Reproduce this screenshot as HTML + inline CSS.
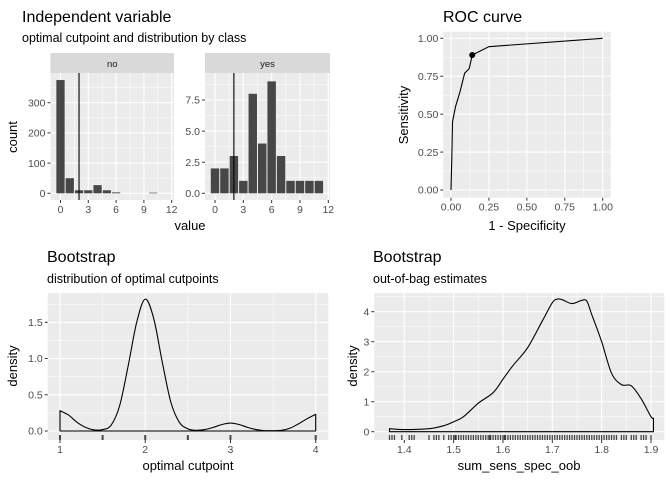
<!DOCTYPE html>
<html><head><meta charset="utf-8"><style>
body{margin:0;background:#fff}
svg{display:block;font-family:"Liberation Sans",sans-serif}
</style></head><body>
<svg id="s" width="672" height="480" xmlns="http://www.w3.org/2000/svg"></svg>
<script>
const histCats=[0,1,2,3,4,5,6,7,8,9,10,11];
const histNo=[375,50,10,10,27,10,3,0,0,0,2,0];
const histYes=[2,2,3,1,8,4,9,3,1,1,1,1];
const cutpoint=2;
const rocFpr=[0,0.005,0.01,0.03,0.06,0.09,0.12,0.14,0.25,1];
const rocTpr=[0,0.2,0.45,0.55,0.65,0.77,0.8,0.89,0.945,1];
const optFpr=0.14, optTpr=0.89;
const cutX=[1,1.1,1.2,1.3,1.4,1.5,1.6,1.7,1.8,1.9,2,2.1,2.2,2.3,2.4,2.5,2.6,2.7,2.8,2.9,3,3.1,3.2,3.3,3.4,3.5,3.6,3.7,3.8,3.9,4];
const cutD=[0.28,0.22,0.12,0.05,0.015,0.02,0.08,0.35,0.9,1.5,1.82,1.55,0.95,0.4,0.12,0.03,0.01,0.02,0.05,0.09,0.11,0.09,0.05,0.02,0.005,0.005,0.01,0.04,0.1,0.17,0.23];
const cutRug=[1,1.5,2,2.5,3,4];
const oobX=[1.37,1.4,1.45,1.48,1.5,1.52,1.55,1.58,1.6,1.62,1.65,1.68,1.7,1.71,1.72,1.74,1.76,1.77,1.78,1.8,1.82,1.84,1.86,1.88,1.9,1.905];
const oobD=[0.1,0.07,0.1,0.2,0.33,0.5,0.95,1.3,1.75,2.2,2.8,3.7,4.3,4.42,4.4,4.27,4.38,4.35,3.9,3.0,1.95,1.57,1.53,1.1,0.5,0.45];
const oobRug=[1.37,1.375,1.38,1.395,1.41,1.415,1.42,1.45,1.46,1.465,1.47,1.48,1.49,1.495,1.5,1.503,1.505,1.51,1.515,1.52,1.525,1.53,1.535,1.54,1.545,1.55,1.555,1.56,1.565,1.57,1.573,1.575,1.58,1.585,1.59,1.595,1.6,1.603,1.605,1.61,1.615,1.62,1.625,1.63,1.635,1.64,1.645,1.65,1.655,1.66,1.665,1.67,1.675,1.68,1.685,1.69,1.695,1.7,1.705,1.71,1.715,1.72,1.725,1.73,1.735,1.74,1.745,1.75,1.755,1.76,1.765,1.77,1.775,1.78,1.785,1.79,1.795,1.8,1.805,1.81,1.815,1.82,1.825,1.83,1.84,1.845,1.85,1.86,1.865,1.87,1.88,1.885,1.89,1.9];

const S=document.getElementById('s');const NS='http://www.w3.org/2000/svg';
function el(t,a,p){const e=document.createElementNS(NS,t);for(const k in a)e.setAttribute(k,a[k]);(p||S).appendChild(e);return e;}
function txt(x,y,s,size,fill,anchor,rot){const a={x:x,y:y,'font-size':size,fill:fill,'text-anchor':anchor||'start'};if(rot)a.transform='rotate(-90 '+x+' '+y+')';const t=el('text',a);t.textContent=s;return t;}
function lin(d0,d1,r0,r1){return v=>r0+(v-d0)*(r1-r0)/(d1-d0);}
function smooth(P){let d='M'+P[0][0]+','+P[0][1];for(let i=0;i<P.length-1;i++){const p0=P[i-1]||P[i],p1=P[i],p2=P[i+1],p3=P[i+2]||p2;
 const c1=[p1[0]+(p2[0]-p0[0])/6,p1[1]+(p2[1]-p0[1])/6],c2=[p2[0]-(p3[0]-p1[0])/6,p2[1]-(p3[1]-p1[1])/6];
 d+=' C'+c1[0]+','+c1[1]+' '+c2[0]+','+c2[1]+' '+p2[0]+','+p2[1];}return d;}
function panel(name,x0,x1,y0,y1,xs,ys,xb,xmin,yb,ymin,xlab,ylab){
  const g=el('g',{});
  el('rect',{x:x0,y:y0,width:x1-x0,height:y1-y0,fill:'#EBEBEB'},g);
  xmin.forEach(v=>el('line',{x1:xs(v),x2:xs(v),y1:y0,y2:y1,stroke:'#fff','stroke-width':0.5},g));
  ymin.forEach(v=>el('line',{y1:ys(v),y2:ys(v),x1:x0,x2:x1,stroke:'#fff','stroke-width':0.5},g));
  xb.forEach(v=>el('line',{x1:xs(v),x2:xs(v),y1:y0,y2:y1,stroke:'#fff','stroke-width':1.1},g));
  yb.forEach(v=>el('line',{y1:ys(v),y2:ys(v),x1:x0,x2:x1,stroke:'#fff','stroke-width':1.1},g));
  if(xlab){xb.forEach((v,i)=>{el('line',{x1:xs(v),x2:xs(v),y1:y1,y2:y1+3,stroke:'#333'},g);const t=txt(xs(v),y1+13,xlab[i],10.5,'#4D4D4D','middle');});}
  if(ylab){yb.forEach((v,i)=>{el('line',{x1:x0-3,x2:x0,y1:ys(v),y2:ys(v),stroke:'#333'},g);const t=txt(x0-5,ys(v)+3.7,ylab[i],10.5,'#4D4D4D','end');});}
  return g;
}
let t;
t=txt(22,22,'Independent variable',16,'#000');
t=txt(22,42,'optimal cutpoint and distribution by class',12.5,'#000');
t=txt(443,22,'ROC curve',16,'#000');
t=txt(47,262,'Bootstrap',16,'#000');
t=txt(47,283,'distribution of optimal cutpoints',12.5,'#000');
t=txt(373,262,'Bootstrap',16,'#000');
t=txt(373,283,'out-of-bag estimates',12.5,'#000');

const xt=[0,3,6,9,12],xm=[1.5,4.5,7.5,10.5];
function hist(name,x0,x1,z12,counts,ys,yb,ym,yl,label){
  const xs=lin(0,12,x0+10,z12);
  const s=el('rect',{x:x0,y:53,width:x1-x0,height:20,fill:'#D9D9D9'});
  
  const st=txt((x0+x1)/2,67,label,9.5,'#1A1A1A','middle');
  const g=panel(name+'-panel',x0,x1,73,200,xs,ys,xt,xm,yb,ym,xt.map(String),yl);
  histCats.forEach((c,i)=>{if(counts[i]<=0)return;const r=el('rect',{x:xs(c-0.5)+0.5,y:ys(counts[i]),width:xs(1)-xs(0)-1,height:ys(0)-ys(counts[i]),fill:'#474747'},g);
    });
  const l=el('line',{x1:xs(cutpoint),x2:xs(cutpoint),y1:73,y2:200,stroke:'#000','stroke-width':1.1},g);
  
}
hist('hist-no',50.5,174,171.7,histNo,lin(0,300,193.3,102.7),[0,100,200,300],[50,150,250,350],['0','100','200','300'],'no');
hist('hist-yes',205,330,328.3,histYes,lin(0,7.5,193.3,100),[0,2.5,5,7.5],[1.25,3.75,6.25,8.75],['0.0','2.5','5.0','7.5'],'yes');
t=txt(190,230,'value',13,'#000','middle');
t=txt(17,137,'count',13,'#000','middle',true);

{const xs=lin(0,1,451,602.7),ys=lin(0,1,190,38.3);const b=[0,0.25,0.5,0.75,1],l=['0.00','0.25','0.50','0.75','1.00'],m=[0.125,0.375,0.625,0.875];
 const g=panel('roc-panel',443.3,610.7,31.7,197.7,xs,ys,b,m,b,m,l,l);
 const p=el('polyline',{points:rocFpr.map((v,i)=>xs(v)+','+ys(rocTpr[i])).join(' '),fill:'none',stroke:'#000','stroke-width':1.1},g);
 
 const c=el('circle',{cx:xs(optFpr),cy:ys(optTpr),r:3,fill:'#000'},g);
 t=txt(527,230,'1 - Specificity',13,'#000','middle');
 t=txt(408,115,'Sensitivity',13,'#000','middle',true);}

function density(name,x0,x1,y0,y1,xs,ys,xb,xm,xl,yb,ym,yl,X,D,rug,rw){
  const g=panel(name+'-panel',x0,x1,y0,y1,xs,ys,xb,xm,yb,ym,xl,yl);
  rug.forEach(v=>{const r=el('line',{x1:xs(v),x2:xs(v),y1:y1,y2:y1-5,stroke:'#000','stroke-width':rw,'stroke-opacity':0.7},g);});
  const P=X.map((v,i)=>[xs(v),ys(D[i])]);
  const d='M'+xs(X[0])+','+ys(0)+' L'+P[0][0]+','+P[0][1]+' '+smooth(P).replace(/^M[^ ]+/,'')+' L'+xs(X[X.length-1])+','+ys(0)+' Z';
  const p=el('path',{d:d,fill:'none',stroke:'#000','stroke-width':1.1,'stroke-linejoin':'round'},g);
  
}
density('boot-cut',47.7,328.3,293,440,lin(1,4,60,315.7),lin(0,1.5,431,322.3),[1,2,3,4],[1.5,2.5,3.5],['1','2','3','4'],[0,0.5,1,1.5],[0.25,0.75,1.25,1.75],['0.0','0.5','1.0','1.5'],cutX,cutD,cutRug,2);
t=txt(188,470,'optimal cutpoint',13,'#000','middle');
t=txt(17,366,'density',13,'#000','middle',true);
density('boot-oob',374.3,664.3,293,440,lin(1.4,1.9,404.3,651),lin(0,4,431.7,311.7),[1.4,1.5,1.6,1.7,1.8,1.9],[1.45,1.55,1.65,1.75,1.85],['1.4','1.5','1.6','1.7','1.8','1.9'],[0,1,2,3,4],[0.5,1.5,2.5,3.5,4.5],['0','1','2','3','4'],oobX,oobD,oobRug,1.3);
t=txt(519,470,'sum_sens_spec_oob',13,'#000','middle');
t=txt(357,366,'density',13,'#000','middle',true);
</script>
</body></html>
